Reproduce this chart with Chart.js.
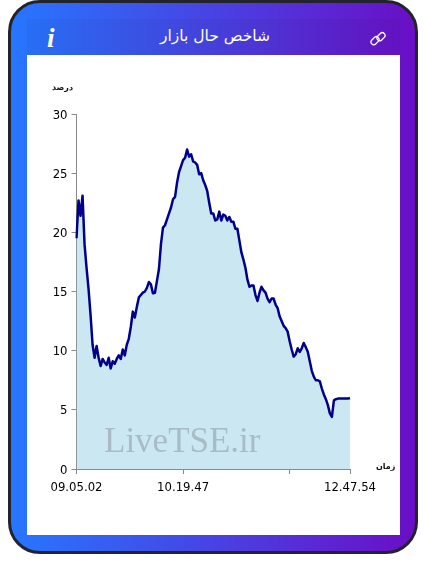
<!DOCTYPE html>
<html lang="fa">
<head>
<meta charset="utf-8">
<title>شاخص حال بازار</title>
<script src="https://cdn.jsdelivr.net/npm/chart.js@4"></script>
<style>
    html, body { margin: 0; padding: 0; background: #fff; }
    body { position: relative; width: 427px; height: 574px; overflow: hidden; font-family: "DejaVu Sans", sans-serif; }
    .card {
        position: absolute; left: 8px; top: 0; width: 410px; height: 554px; box-sizing: border-box;
        border: 3px solid #23232b; border-radius: 32px;
        background: linear-gradient(90deg, #2776ff 0%, #6a0fc6 100%);
    }
    .head { position: absolute; left: 27px; top: 19px; width: 373px; height: 36px; background: rgba(0, 0, 0, 0.035); }
    .body { position: absolute; left: 27px; top: 55px; width: 373px; height: 480px; background: #fff; }
    .title { position: absolute; left: 27px; top: 25px; width: 376px; text-align: center; color: #fff; font-size: 15.5px; line-height: 22px; direction: rtl; }
    .info { position: absolute; left: 47px; top: 24px; color: #fff; font: italic bold 27px "Liberation Serif", serif; line-height: 28px; }
    .link { position: absolute; left: 369px; top: 30px; }
    .axis-name { position: absolute; font-size: 8px; font-weight: bold; color: #111; direction: rtl; line-height: 12px; }
    .mark { position: absolute; left: 104px; top: 420px; font: 35px "Liberation Serif", serif; line-height: 42px; color: #a9bcc5; white-space: nowrap; }
    canvas { position: absolute; left: 0; top: 0; }
</style>
</head>
<body>
<div class="card"></div>
<div class="head"></div>
<div class="body"></div>
<div class="title">شاخص حال بازار</div>
<div class="info">i</div>
<svg class="link" width="18" height="18" viewBox="0 0 18 18" fill="none" stroke="#fff" stroke-width="1.3">
    <rect x="1.5" y="8" width="9" height="5.5" rx="2.7" transform="rotate(-45 6 10.7)"/>
    <rect x="7.5" y="4" width="9" height="5.5" rx="2.7" transform="rotate(-45 12 6.7)"/>
</svg>
<canvas id="marketChart" width="427" height="574"></canvas>
<div class="axis-name" style="left:52px;top:82px">درصد</div>
<div class="axis-name" style="left:376px;top:461px">زمان</div>
<div class="mark">LiveTSE.ir</div>

<script>
// Market state index
const values = [
    19.5, 22.7, 21.4, 23.1, 19.0, 17.0, 15.2, 13.0, 10.5, 9.4,
    10.4, 9.4, 8.7, 9.3, 9.0, 8.8, 9.4, 8.5, 9.1, 8.9,
    9.3, 9.6, 9.3, 10.1, 9.6, 10.5, 11.0, 12.0, 13.3, 12.8,
    13.7, 14.5, 14.7, 14.9, 15.0, 15.3, 15.8, 15.6, 14.85, 14.9,
    15.9, 16.9, 19.0, 20.4, 20.6, 21.1, 21.6, 22.1, 22.8, 23.0,
    24.2, 25.1, 25.6, 26.1, 26.3, 27.0, 26.4, 26.6, 26.0, 25.9,
    25.7, 24.9, 25.0, 24.4, 24.0, 23.5, 22.5, 21.6, 21.6, 21.0,
    21.1, 21.75, 21.0, 21.5, 21.4, 21.0, 21.3, 20.9, 20.9, 20.3,
    20.3, 19.3, 18.3, 17.7, 17.0, 16.0, 15.4, 15.5, 15.5, 14.7,
    14.2, 14.9, 15.4, 15.1, 14.9, 14.4, 14.1, 14.4, 14.4, 13.9,
    13.6, 12.9, 12.5, 12.1, 11.9, 11.6, 10.8, 10.1, 9.5, 9.7,
    10.2, 9.9, 10.2, 10.65, 10.3, 9.9, 9.1, 8.3, 7.8, 7.5,
    7.5, 7.4, 6.8, 6.3, 5.9, 5.4, 4.7, 4.4, 5.8, 5.9,
    5.95, 5.95, 5.95, 5.95, 5.95, 5.95, 6.0
];
const categories = values.map((v, i) => i);
const tickPositions = [0, 53, 106, 136];
const tickLabels = ['09.05.02', '10.19.47', '', '12.47.54'];

const axisGrey = '#8a8a8a';

new Chart(document.getElementById('marketChart').getContext('2d'), {
    type: 'line',
    data: {
        labels: categories,
        datasets: [{
            data: values,
            borderColor: '#00008b',
            borderWidth: 2.5,
            borderJoinStyle: 'round',
            backgroundColor: '#cae7f2',
            fill: 'origin',
            tension: 0,
            pointRadius: 0
        }]
    },
    options: {
        responsive: false,
        animation: false,
        layout: { padding: { top: 114, right: 77, left: 0, bottom: 0 } },
        plugins: { legend: { display: false }, tooltip: { enabled: false } },
        scales: {
            x: {
                offset: false,
                afterBuildTicks: scale => { scale.ticks = tickPositions.map(p => ({ value: p })); },
                afterFit: scale => { scale.height = 105; },
                grid: { drawOnChartArea: false, drawTicks: true, tickLength: 5, color: axisGrey },
                border: { color: axisGrey },
                ticks: {
                    autoSkip: false,
                    maxRotation: 0,
                    padding: 7,
                    color: '#000',
                    font: { family: '"DejaVu Sans"', size: 11.7 },
                    callback: (value, index) => tickLabels[index]
                }
            },
            y: {
                min: 0,
                max: 30,
                afterFit: scale => { scale.width = 76.5; },
                grid: { drawOnChartArea: false, drawTicks: true, tickLength: 5, color: axisGrey },
                border: { color: axisGrey },
                ticks: {
                    stepSize: 5,
                    padding: 4,
                    color: '#000',
                    // the blank first line pushes each label down a touch, the way the original sits
                    font: { family: '"DejaVu Sans"', size: 11.7, lineHeight: 0.25 },
                    callback: value => ['', String(value)]
                }
            }
        }
    }
});
</script>
</body>
</html>
